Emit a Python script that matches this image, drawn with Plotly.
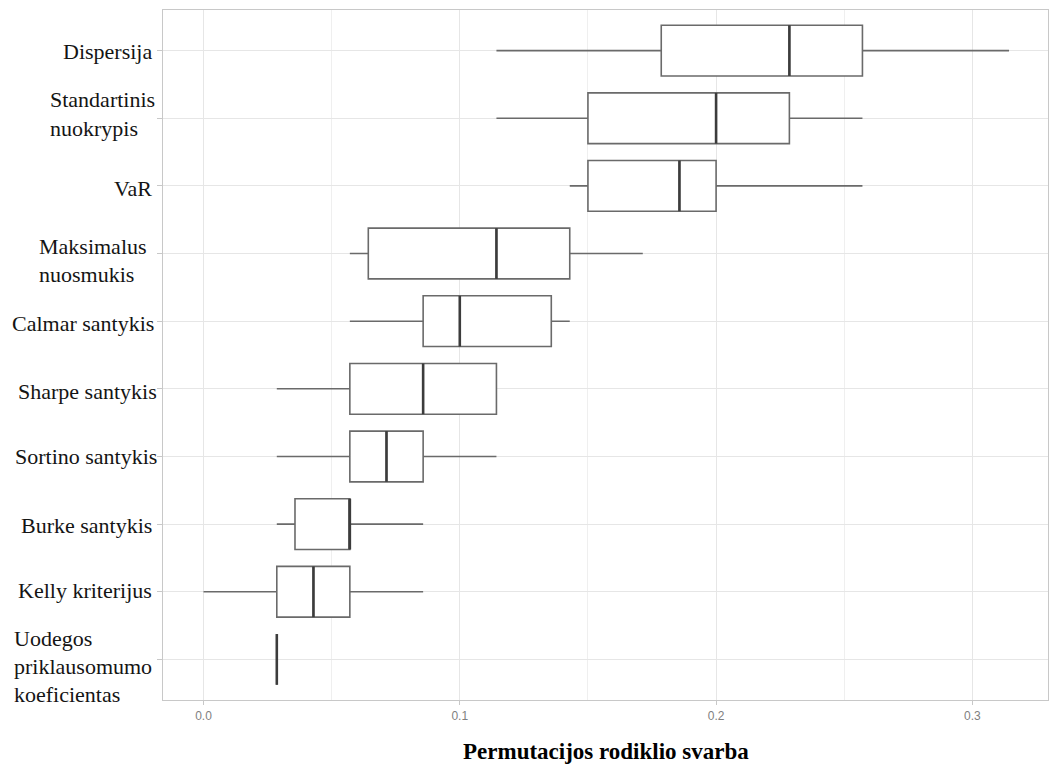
import plotly.graph_objects as go

# Permutation importance of each risk measure (box statistics)
categories = [
    "Dispersija",
    "Standartinis nuokrypis",
    "VaR",
    "Maksimalus nuosmukis",
    "Calmar santykis",
    "Sharpe santykis",
    "Sortino santykis",
    "Burke santykis",
    "Kelly kriterijus",
    "Uodegos priklausomumo koeficientas",
]
lower = [0.1143, 0.1143, 0.1429, 0.0571, 0.0571, 0.0286, 0.0286, 0.0286, 0.0000, 0.0286]
q1 = [0.1786, 0.1500, 0.1500, 0.0643, 0.0857, 0.0571, 0.0571, 0.0357, 0.0286, 0.0286]
median = [0.2286, 0.2000, 0.1857, 0.1143, 0.1000, 0.0857, 0.0714, 0.0571, 0.0429, 0.0286]
q3 = [0.2571, 0.2286, 0.2000, 0.1429, 0.1357, 0.1143, 0.0857, 0.0571, 0.0571, 0.0286]
upper = [0.3143, 0.2571, 0.2571, 0.1714, 0.1429, 0.1143, 0.1143, 0.0857, 0.0857, 0.0286]

# Multi-line labels, one entry per category
label_lines = [
    ["Dispersija"],
    ["Standartinis", "nuokrypis"],
    ["VaR"],
    ["Maksimalus", "nuosmukis"],
    ["Calmar santykis"],
    ["Sharpe santykis"],
    ["Sortino santykis"],
    ["Burke santykis"],
    ["Kelly kriterijus"],
    ["Uodegos", "priklausomumo", "koeficientas"],
]
# vertical pixel offsets of each label line relative to its tick
label_shifts = [
    [-1],
    [19, -10],
    [-3],
    [7, -21],
    [-2],
    [-3],
    [0],
    [-1],
    [1],
    [21, -7, -35],
]
# horizontal placement: single lines end near the axis, stacked lines share a left edge
label_anchor = [
    ("right", -9),
    ("left", -115),
    ("right", -9),
    ("left", -126),
    ("right", -7),
    ("right", -4),
    ("right", -4),
    ("right", -9),
    ("right", -9),
    ("left", -151),
]

n = len(categories)
pos = [n - 1 - i for i in range(n)]  # first category at the top
box_width = 0.75

fig = go.Figure()
fig.add_trace(go.Box(
    orientation="h",
    y=pos,
    q1=q1,
    median=median,
    q3=q3,
    lowerfence=lower,
    upperfence=upper,
    width=box_width,
    whiskerwidth=0,
    boxpoints=False,
    fillcolor="white",
    line=dict(color="#6a6a6a", width=1.6),
    showlegend=False,
    hoverinfo="skip",
))

# thicker median lines
mx, my = [], []
for p, m in zip(pos, median):
    mx += [m, m, None]
    my += [p - box_width / 2, p + box_width / 2, None]
fig.add_trace(go.Scatter(
    x=mx, y=my, mode="lines",
    line=dict(color="#3c3c3c", width=2.6),
    showlegend=False, hoverinfo="skip",
))

annotations = []
for p, lines, shifts, (anchor, xs) in zip(pos, label_lines, label_shifts, label_anchor):
    for line, s in zip(lines, shifts):
        annotations.append(dict(
            xref="paper", yref="y", x=0, y=p, xanchor=anchor, yanchor="middle",
            xshift=xs, yshift=s, text=line, showarrow=False,
            font=dict(family="Liberation Serif", size=22, color="#141414"),
        ))
annotations.append(dict(
    xref="paper", yref="paper", x=0.5, y=0, xanchor="center", yanchor="middle",
    yshift=-51, text="<b>Permutacijos rodiklio svarba</b>", showarrow=False,
    font=dict(family="Liberation Serif", size=23, color="#000000"),
))

fig.update_layout(
    width=1049, height=767,
    margin=dict(l=163, r=1, t=10, b=67),
    paper_bgcolor="white", plot_bgcolor="white",
    annotations=annotations,
    xaxis=dict(
        range=[-0.0158, 0.3295],
        tickvals=[0, 0.1, 0.2, 0.3],
        ticktext=["0.0", "0.1", "0.2", "0.3"],
        tickfont=dict(family="Liberation Sans", size=12, color="#7f7f7f"),
        ticks="outside", ticklen=4, tickcolor="#c8c8c8",
        showgrid=True, gridcolor="#e6e6e6", gridwidth=1.3,
        minor=dict(tickvals=[0.05, 0.15, 0.25], showgrid=True,
                   gridcolor="#efefef", gridwidth=1),
        showline=True, linecolor="#c8c8c8", linewidth=1.3, mirror=True,
        zeroline=False,
    ),
    yaxis=dict(
        range=[-0.6, n - 1 + 0.6],
        tickvals=pos,
        showticklabels=False,
        ticks="outside", ticklen=5, tickcolor="#c8c8c8",
        showgrid=True, gridcolor="#e6e6e6", gridwidth=1.3,
        showline=True, linecolor="#c8c8c8", linewidth=1.3, mirror=True,
        zeroline=False,
    ),
)

fig.write_html("out.html")
